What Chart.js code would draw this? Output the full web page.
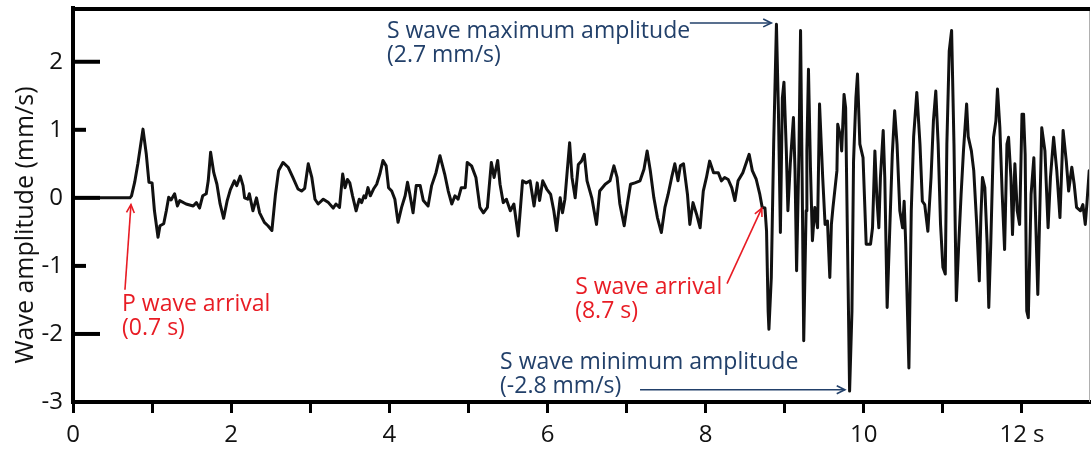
<!DOCTYPE html>
<html>
<head>
<meta charset="utf-8">
<script src="https://cdn.jsdelivr.net/npm/chart.js@4.4.1/dist/chart.umd.min.js"></script>
<style>
  html, body { margin: 0; padding: 0; background: #fff; }
  #wrap { width: 1092px; height: 449px; }
</style>
</head>
<body>
<div id="wrap"><canvas id="c" width="1092" height="449"></canvas></div>
<script>
// ---------------- data ----------------
const timeSec = [
  0, 0.72, 0.74, 0.78, 0.82, 0.885, 0.927, 0.96, 1.0, 1.03, 1.075, 1.10, 1.147, 1.18, 1.21, 1.24, 1.285, 1.32, 1.35, 1.43,
  1.52, 1.56, 1.60, 1.64, 1.685, 1.71, 1.74, 1.78, 1.82, 1.86, 1.905, 1.95, 1.99, 2.04, 2.07, 2.115, 2.15, 2.17, 2.21, 2.23,
  2.275, 2.32, 2.36, 2.42, 2.465, 2.515, 2.56, 2.60, 2.655, 2.72, 2.78, 2.845, 2.89, 2.93, 2.975, 3.02, 3.06, 3.10, 3.165, 3.23,
  3.29, 3.325, 3.37, 3.41, 3.44, 3.47, 3.50, 3.535, 3.58, 3.62, 3.65, 3.68, 3.70, 3.73, 3.76, 3.80, 3.84, 3.88, 3.92, 3.96,
  3.99, 4.03, 4.07, 4.11, 4.155, 4.20, 4.23, 4.26, 4.30, 4.34, 4.39, 4.43, 4.49, 4.535, 4.59, 4.64, 4.70, 4.745, 4.79, 4.83,
  4.87, 4.91, 4.96, 4.985, 5.04, 5.095, 5.145, 5.19, 5.24, 5.29, 5.325, 5.37, 5.40, 5.44, 5.48, 5.53, 5.575, 5.63, 5.685, 5.73,
  5.78, 5.83, 5.87, 5.90, 5.94, 5.99, 6.04, 6.08, 6.115, 6.16, 6.19, 6.22, 6.25, 6.28, 6.31, 6.35, 6.39, 6.43, 6.465, 6.50,
  6.56, 6.62, 6.66, 6.73, 6.79, 6.84, 6.88, 6.915, 6.97, 7.01, 7.05, 7.105, 7.17, 7.22, 7.26, 7.30, 7.345, 7.39, 7.44, 7.485,
  7.525, 7.57, 7.61, 7.65, 7.68, 7.72, 7.77, 7.80, 7.84, 7.885, 7.93, 7.97, 8.01, 8.05, 8.10, 8.16, 8.20, 8.24, 8.285, 8.33,
  8.37, 8.41, 8.47, 8.55, 8.59, 8.64, 8.685, 8.715, 8.75, 8.77, 8.79, 8.80, 8.83, 8.86, 8.895, 8.92, 8.945, 8.97, 8.99, 9.02,
  9.04, 9.07, 9.11, 9.13, 9.15, 9.18, 9.20, 9.22, 9.24, 9.27, 9.28, 9.30, 9.325, 9.35, 9.38, 9.415, 9.44, 9.48, 9.51, 9.54,
  9.57, 9.59, 9.61, 9.66, 9.67, 9.705, 9.72, 9.75, 9.77, 9.80, 9.82, 9.85, 9.87, 9.90, 9.92, 9.95, 9.99, 10.03, 10.085, 10.11,
  10.14, 10.165, 10.19, 10.21, 10.245, 10.265, 10.295, 10.33, 10.36, 10.39, 10.42, 10.455, 10.49, 10.51, 10.53, 10.57, 10.60, 10.63, 10.67, 10.71,
  10.74, 10.77, 10.81, 10.85, 10.88, 10.91, 10.94, 10.97, 11.00, 11.03, 11.05, 11.08, 11.11, 11.14, 11.17, 11.20, 11.23, 11.26, 11.30, 11.32,
  11.36, 11.39, 11.43, 11.46, 11.48, 11.50, 11.53, 11.56, 11.58, 11.605, 11.64, 11.67, 11.69, 11.72, 11.75, 11.78, 11.81, 11.83, 11.86, 11.88,
  11.91, 11.94, 11.97, 12.0, 12.02, 12.04, 12.06, 12.08, 12.115, 12.15, 12.17, 12.20, 12.23, 12.25, 12.29, 12.33, 12.36, 12.40, 12.44, 12.48,
  12.52, 12.56, 12.59, 12.63, 12.66, 12.69, 12.74, 12.77, 12.80, 12.82, 12.85
];
const amplitude = [
  0, 0, 0.03, 0.23, 0.5, 1.01, 0.64, 0.23, 0.22, -0.19, -0.58, -0.41, -0.38, -0.19, 0.01, -0.03, 0.06, -0.12, -0.04, -0.09,
  -0.12, -0.07, -0.15, 0.03, 0.06, 0.25, 0.67, 0.37, 0.2, -0.09, -0.3, -0.04, 0.12, 0.25, 0.18, 0.32, 0.18, 0.0, -0.02, 0.06,
  -0.19, 0.0, -0.22, -0.36, -0.41, -0.48, 0.05, 0.40, 0.52, 0.45, 0.30, 0.13, 0.10, 0.14, 0.5, 0.30, -0.02, -0.09, -0.02, -0.07,
  -0.15, -0.09, -0.14, 0.35, 0.15, 0.27, 0.22, 0.03, -0.19, -0.02, -0.07, 0.03, 0.0, 0.15, 0.03, 0.13, 0.2, 0.35, 0.55, 0.47,
  0.15, 0.10, -0.02, -0.36, -0.14, 0.03, 0.23, 0.05, -0.22, 0.18, 0.18, -0.04, -0.12, 0.18, 0.37, 0.62, 0.35, 0.10, -0.09, 0.03,
  -0.02, 0.15, 0.15, 0.52, 0.47, 0.30, -0.14, -0.22, -0.14, 0.52, 0.30, 0.55, 0.2, -0.07, -0.02, -0.19, -0.09, -0.56, 0.25, 0.22,
  0.25, -0.12, 0.22, -0.04, 0.25, 0.13, 0.05, -0.19, -0.48, 0.0, -0.22, -0.02, 0.40, 0.81, 0.3, 0.0, 0.49, 0.54, 0.64, 0.25,
  0.0, -0.39, 0.10, 0.2, 0.25, 0.47, 0.30, -0.09, -0.41, -0.09, 0.20, 0.22, 0.25, 0.42, 0.69, 0.40, 0.0, -0.29, -0.51, -0.14,
  0.05, 0.30, 0.50, 0.25, 0.47, 0.50, 0.05, -0.39, -0.07, -0.24, -0.44, 0.10, 0.30, 0.54, 0.37, 0.37, 0.25, 0.30, 0.27, 0.15,
  -0.04, 0.25, 0.37, 0.64, 0.40, 0.27, 0.05, -0.14, -0.15, -0.49, -1.66, -1.93, -1.17, 0.79, 2.55, 1.28, -0.51, 1.47, 1.70, 0.69,
  -0.19, 0.5, 1.18, 0.40, -1.07, 0.69, 2.46, 0.30, -2.10, -0.19, 0.69, 1.89, 0.45, -0.63, -0.14, -0.44, 1.38, 0.30, -0.39, -0.34,
  -1.17, -0.39, -0.14, 0.40, 1.08, 0.9, 0.69, 1.52, 1.32, -1.17, -2.84, -1.66, 0.54, 1.47, 1.82, 0.79, 0.59, -0.68, -0.68, -0.44,
  0.69, 0.0, -0.44, 0.30, 0.99, 0.30, -1.61, -0.39, 0.64, 1.28, 0.79, -0.19, -0.44, -0.05, -0.68, -2.50, -0.19, 0.9, 1.55, 0.79,
  -0.05, -0.1, -0.49, 0.30, 1.13, 1.57, 0.79, -0.39, -1.02, -1.12, 0.79, 2.16, 2.46, 0.79, -1.51, -0.68, 0.05, 0.69, 1.38, 0.9,
  0.69, 0.40, -0.44, -1.22, -0.29, 0.30, 0.15, -0.68, -1.61, -0.68, 0.89, 1.13, 1.60, 1.04, 0.05, -0.76, 0.79, 0.89, 0.30, -0.54,
  0.5, -0.19, -0.39, 1.23, 1.23, 0.64, -1.66, -1.76, 0.05, 0.59, -0.19, -1.42, 0.05, 1.03, 0.69, -0.44, 0.30, 0.89, 0.40, -0.29,
  0.99, 0.54, 0.10, 0.45, 0.2, -0.14, -0.19, -0.1, -0.39, -0.1, 0.40
];
const xTickValues = [0, 1, 2, 3, 4, 5, 6, 7, 8, 9, 10, 11, 12];
const xTickLabels = ['0', '', '2', '', '4', '', '6', '', '8', '', '10', '', '12 s'];
const yTickValues = [-3, -2, -1, 0, 1, 2];
const yTickLabels = ['-3', '-2', '-1', '0', '1', '2'];
const yAxisTitle = 'Wave amplitude (mm/s)';

// annotation texts, anchored in data units (seconds, mm/s)
const noteTexts = [
  ['P wave arrival', '(0.7 s)'],
  ['S wave arrival', '(8.7 s)'],
  ['S wave maximum amplitude', '(2.7 mm/s)'],
  ['S wave minimum amplitude', '(-2.8 mm/s)']
];
const noteAnchors = [[0.62, -1.66], [6.35, -1.41], [3.97, 2.35], [5.40, -2.51]];
const noteArrows = [
  [[0.657, -1.35], [0.733, -0.10]],
  [[8.27, -1.26], [8.71, -0.15]],
  [[7.80, 2.57], [8.83, 2.57]],
  [[7.17, -2.82], [9.76, -2.82]]
];
const noteColors = ['#e81c24', '#e81c24', '#22406a', '#22406a'];

// ---------------- chart ----------------
const FONT = "'Open Sans', 'DejaVu Sans', sans-serif";
Chart.defaults.font.family = FONT;
Chart.defaults.color = '#111';

const points = timeSec.map((t, i) => ({ x: t, y: amplitude[i] }));

function line(ctx, x0, y0, x1, y1) {
  ctx.beginPath(); ctx.moveTo(x0, y0); ctx.lineTo(x1, y1); ctx.stroke();
}
function arrow(ctx, x0, y0, x1, y1, head) {
  line(ctx, x0, y0, x1, y1);
  const ang = Math.atan2(y1 - y0, x1 - x0);
  const a = 0.45;
  ctx.beginPath();
  ctx.moveTo(x1 - head * Math.cos(ang - a), y1 - head * Math.sin(ang - a));
  ctx.lineTo(x1, y1);
  ctx.lineTo(x1 - head * Math.cos(ang + a), y1 - head * Math.sin(ang + a));
  ctx.stroke();
}

const extras = {
  id: 'extras',
  afterDraw(chart) {
    const { ctx, chartArea: a, scales: { x, y } } = chart;
    ctx.save();
    // frame: faint right edge, thick top edge
    ctx.strokeStyle = '#b0b0b0';
    ctx.lineWidth = 1;
    line(ctx, a.right - 0.5, a.top, a.right - 0.5, a.bottom);
    ctx.strokeStyle = '#000';
    ctx.lineWidth = 4;
    ctx.beginPath();
    ctx.moveTo(a.left - 2, a.top + 1);
    ctx.lineTo(a.right, a.top + 1);
    ctx.stroke();
    // inner y ticks
    ctx.lineWidth = 4;
    yTickValues.forEach(v => {
      if (v === yTickValues[0]) return;
      const py = y.getPixelForValue(v);
      const len = Math.abs(v) === 1 ? 13 : 27;
      line(ctx, a.left, py, a.left + len, py);
    });
    // y-axis title
    ctx.save();
    ctx.translate(33, 225);
    ctx.rotate(-Math.PI / 2);
    ctx.fillStyle = '#111';
    ctx.font = "25px " + FONT;
    ctx.textAlign = 'center';
    ctx.textBaseline = 'alphabetic';
    ctx.fillText(yAxisTitle, 0, 0);
    ctx.restore();
    // annotations
    ctx.font = "23px " + FONT;
    ctx.textAlign = 'left';
    ctx.textBaseline = 'alphabetic';
    noteTexts.forEach((lines, i) => {
      ctx.fillStyle = noteColors[i];
      const px = x.getPixelForValue(noteAnchors[i][0]);
      const py = y.getPixelForValue(noteAnchors[i][1]);
      lines.forEach((s, k) => ctx.fillText(s, px, py + k * 24.5));
      const [p0, p1] = noteArrows[i];
      ctx.strokeStyle = noteColors[i];
      ctx.lineWidth = 1.6;
      arrow(ctx, x.getPixelForValue(p0[0]), y.getPixelForValue(p0[1]),
                 x.getPixelForValue(p1[0]), y.getPixelForValue(p1[1]), 9);
    });
    ctx.restore();
  }
};

new Chart(document.getElementById('c'), {
  type: 'line',
  data: {
    datasets: [{
      data: points,
      borderColor: '#111',
      borderWidth: 3,
      pointRadius: 0,
      tension: 0,
      borderJoinStyle: 'round',
      borderCapStyle: 'round',
      fill: false
    }]
  },
  options: {
    responsive: false,
    animation: false,
    layout: { padding: { top: 8, right: 2, left: 0, bottom: 0 } },
    plugins: { legend: { display: false }, tooltip: { enabled: false } },
    scales: {
      x: {
        type: 'linear',
        min: 0,
        max: 12.86,
        afterBuildTicks: s => { s.ticks = xTickValues.map(v => ({ value: v })); },
        afterFit: s => { s.height = 47; s.paddingLeft = 0; s.paddingRight = 0; },
        ticks: {
          autoSkip: false,
          maxRotation: 0,
          padding: 8,
          color: '#111',
          font: { size: 24 },
          callback: v => { const i = xTickValues.indexOf(v); return i >= 0 ? xTickLabels[i] : ''; }
        },
        grid: { drawOnChartArea: false, drawTicks: true, tickLength: 11, tickWidth: 3, tickColor: '#000' },
        border: { display: true, color: '#000', width: 4 }
      },
      y: {
        min: -3,
        max: 2.79,
        afterBuildTicks: s => { s.ticks = yTickValues.map(v => ({ value: v })); },
        afterFit: s => { s.width = 73; s.paddingTop = 0; s.paddingBottom = 0; },
        ticks: {
          padding: 10,
          color: '#111',
          font: { size: 24 },
          callback: v => { const i = yTickValues.indexOf(v); return i >= 0 ? yTickLabels[i] : ''; }
        },
        grid: { drawOnChartArea: false, drawTicks: false },
        border: { display: true, color: '#000', width: 4 }
      }
    }
  },
  plugins: [extras]
});
</script>
</body>
</html>
